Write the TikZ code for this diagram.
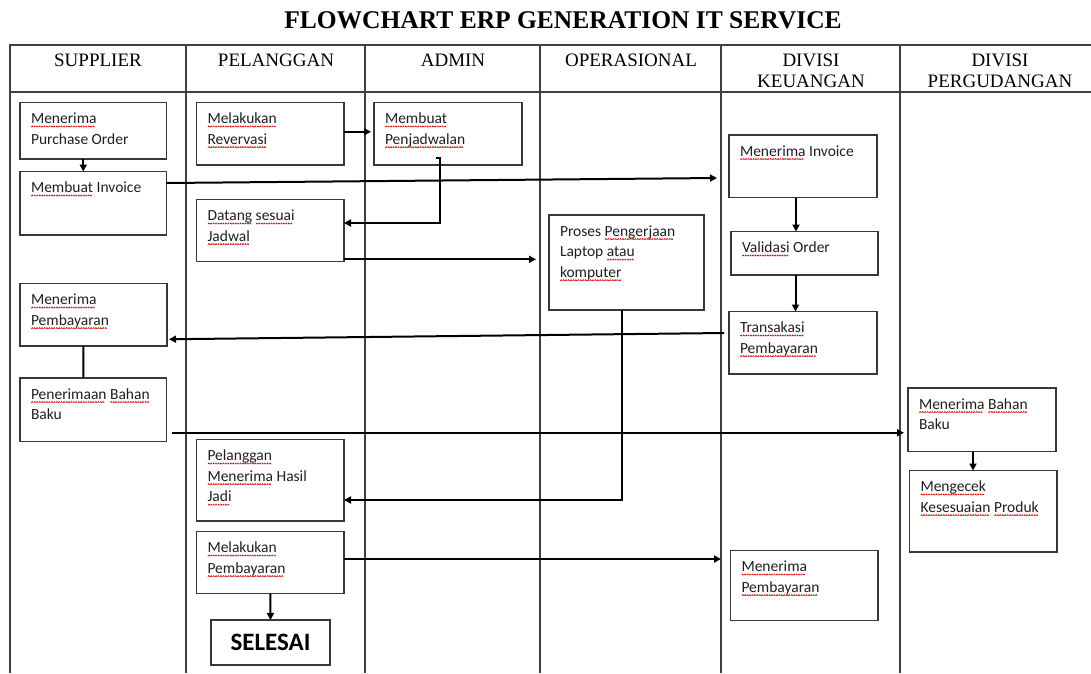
\documentclass[tikz,border=0pt]{standalone}
\usepackage{fontspec}
\setmainfont{Liberation Serif}
\newfontfamily\calfont{Carlito}
\usetikzlibrary{arrows.meta,calc}
\newsavebox\sqbox
\newsavebox\sqmark
\sbox\sqmark{\tikz[baseline=0pt]\draw[red!85!black,line width=0.65pt] (0pt,0pt) -- (0.9pt,1.1pt) -- (1.8pt,0pt);}
\newcommand\sqw[1]{\sbox\sqbox{#1}\leavevmode\rlap{\lower3.6pt\hbox to \wd\sqbox{\leaders\copy\sqmark\hfill}}\usebox\sqbox}
\tikzset{
  tbl/.style={draw=black!75,line width=1.3pt},
  box/.style={draw=black!78,line width=1.4pt,inner sep=0pt,outer sep=0pt},
  btxt/.style={inner sep=0pt,outer sep=0pt,align=left,font=\calfont\fontsize{15.5}{20.6}\selectfont,text=black!88},
  hdr/.style={inner sep=0pt,outer sep=0pt,align=center,font=\fontsize{19}{21.3}\selectfont,text=black},
  arr/.style={draw=black,line width=2pt,-{Triangle[length=7pt,width=7pt]}},
  ln/.style={draw=black,line width=2pt}
}
\newcommand\mkbox[6]{%
  \node[box,anchor=north west,minimum width={#4-#2},minimum height={#5-#3}] (#1) at (#2,#3) {};
  \node[btxt,anchor=north west] (#1t) at (#2+11,#3+10) {\rule{0pt}{11pt}#6};
}
\begin{document}
\begin{tikzpicture}[x=1pt,y=-1pt]
\useasboundingbox (0,0) rectangle (1091,673);
% title
\node[inner sep=0pt,anchor=base,font=\bfseries\fontsize{25.5}{28}\selectfont] (title) at (563,28.5) {FLOWCHART ERP GENERATION IT SERVICE};
% table
\draw[tbl] (10,673) -- (10,45) -- (1091,45);
\draw[tbl] (10,92) -- (1091,92);
\foreach \xx in {186,365,540,721,900} \draw[tbl] (\xx,45) -- (\xx,673);
% headers
\node[hdr,anchor=north] (h1) at (98,52) {\rule{0pt}{14pt}SUPPLIER};
\node[hdr,anchor=north] (h2) at (276,52) {\rule{0pt}{14pt}PELANGGAN};
\node[hdr,anchor=north] (h3) at (453,52) {\rule{0pt}{14pt}ADMIN};
\node[hdr,anchor=north] (h4) at (631,52) {\rule{0pt}{14pt}OPERASIONAL};
\node[hdr,anchor=north] (h5) at (811,52) {\rule{0pt}{14pt}DIVISI\\KEUANGAN};
\node[hdr,anchor=north] (h6) at (1000,52) {\rule{0pt}{14pt}DIVISI\\PERGUDANGAN};
% boxes
\mkbox{po}{20}{102.5}{166.5}{159}{\sqw{Menerima}\\Purchase Order}
\mkbox{inv}{20}{171.5}{166.5}{235}{\sqw{Membuat} Invoice}
\mkbox{res}{196.5}{102.5}{344}{165}{\sqw{Melakukan}\\\sqw{Revervasi}}
\mkbox{jad}{374}{102.5}{522}{165}{\sqw{Membuat}\\\sqw{Penjadwalan}}
\mkbox{dat}{196.5}{199.5}{344}{261.5}{\sqw{Datang} \sqw{sesuai}\\\sqw{Jadwal}}
\mkbox{minv}{729}{135}{877}{197.5}{\sqw{Menerima} Invoice}
\mkbox{val}{731}{231.5}{878}{275}{\sqw{Validasi} Order}
\mkbox{pro}{549}{215}{704}{310}{Proses \sqw{Pengerjaan}\\Laptop \sqw{atau}\\\sqw{komputer}}
\mkbox{tra}{729}{311.5}{877}{374}{\sqw{Transakasi}\\\sqw{Pembayaran}}
\mkbox{mp}{20}{283.5}{167}{346}{\sqw{Menerima}\\\sqw{Pembayaran}}
\mkbox{pbb}{20}{378}{166.5}{441.5}{\sqw{Penerimaan} \sqw{Bahan}\\Baku}
\mkbox{mbb}{908}{388}{1056}{451.5}{\sqw{Menerima} \sqw{Bahan}\\Baku}
\mkbox{cek}{909.5}{470.5}{1057}{552}{\sqw{Mengecek}\\\sqw{Kesesuaian} \sqw{Produk}}
\mkbox{hasil}{196.5}{439.5}{344}{521}{\sqw{Pelanggan}\\\sqw{Menerima} Hasil\\\sqw{Jadi}}
\mkbox{bayar}{196.5}{531.5}{344}{593.5}{\sqw{Melakukan}\\\sqw{Pembayaran}}
\mkbox{mpk}{730.5}{550.5}{878}{620.5}{\sqw{Menerima}\\\sqw{Pembayaran}}
\node[box,minimum width=119pt,minimum height=45pt,font=\calfont\bfseries\fontsize{25}{28}\selectfont] (sel) at (270.5,642.5) {SELESAI};
% connectors
\draw[arr] ([xshift=-10pt]po.south) -- ([xshift=-10pt]inv.north);
\draw[arr,shorten >=3pt] ([yshift=2pt]res.east) -- ([yshift=2pt]jad.west);
\draw[arr] ([shift={(-12pt,7pt)}]jad.south) -- ++(4,0) |- ([yshift=7.5pt]dat.east);
\draw[arr] ([yshift=20.25pt]inv.east) -- ([xshift=-12pt,yshift=-11.75pt]minv.west);
\draw[arr] ([yshift=-28.8pt]dat.east) -- ([xshift=-13pt,yshift=3.2pt]pro.west);
\draw[arr] ([xshift=-7pt]minv.south) -- ([xshift=-8.5pt]val.north);
\draw[arr] ([xshift=-9pt]val.south) -- ([xshift=-7.5pt]tra.north);
\draw[arr] ([xshift=-5pt,yshift=9.75pt]tra.west) -- ([xshift=2pt,yshift=-24.5pt]mp.east);
\draw[ln] ([xshift=-10pt]mp.south) -- ([xshift=-10pt]pbb.north);
\draw[arr] ([xshift=5pt,yshift=-23pt]pbb.east) -- ([xshift=-4pt,yshift=-13pt]mbb.west);
\draw[arr] ([xshift=-9pt]mbb.south) -- ([xshift=-10.25pt]cek.north);
\draw[arr] ([xshift=-4.2pt]pro.south) |- ([yshift=-19.75pt]hasil.east);
\draw[arr] ([yshift=3.5pt]bayar.east) -- ([xshift=-9.5pt,yshift=26.5pt]mpk.west);
\draw[arr] (bayar.south) -- (sel.north);
\end{tikzpicture}
\end{document}
